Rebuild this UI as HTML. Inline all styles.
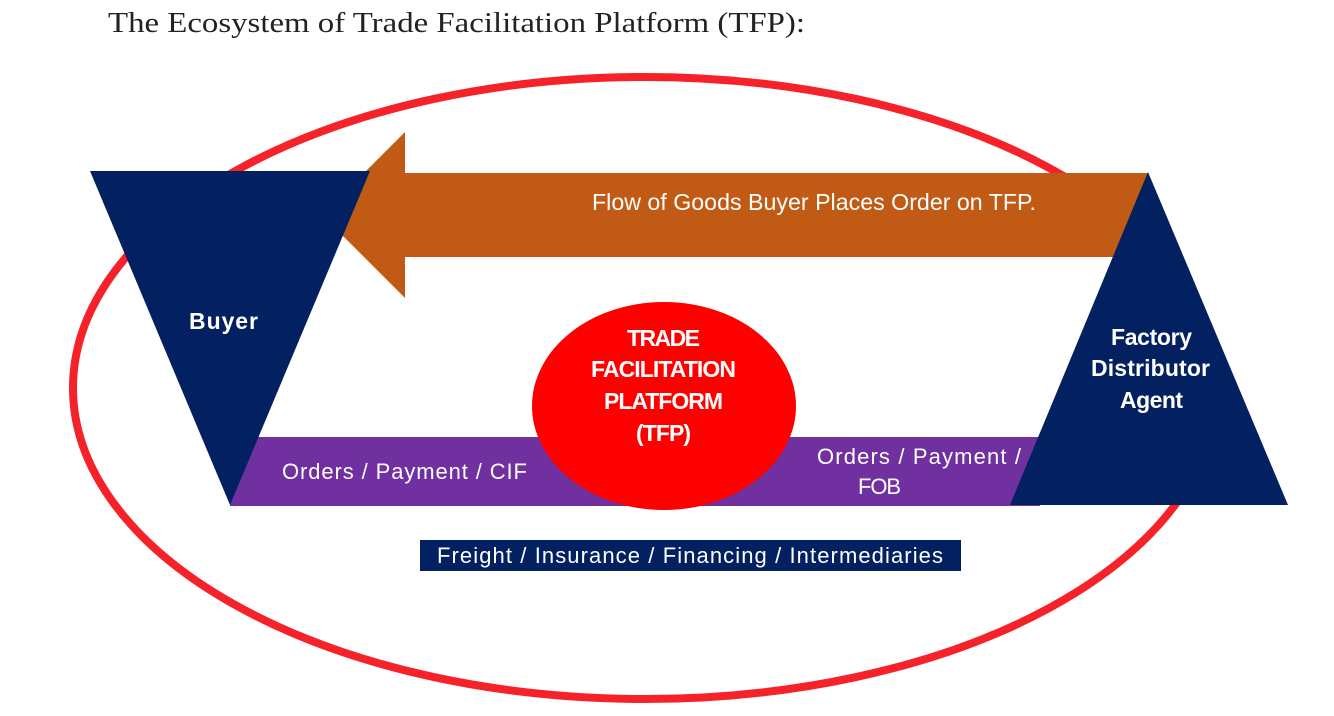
<!DOCTYPE html>
<html><head><meta charset="utf-8"><style>
html,body{margin:0;padding:0;background:#fff}
body{width:1334px;height:716px;position:relative;overflow:hidden}
svg{position:absolute;left:0;top:0}
</style></head><body>
<svg width="1334" height="716" viewBox="0 0 1334 716" xmlns="http://www.w3.org/2000/svg">
<text x="108" y="32" font-family="Liberation Serif, serif" font-size="28" fill="#222" textLength="697" lengthAdjust="spacingAndGlyphs">The Ecosystem of Trade Facilitation Platform (TFP):</text>
<ellipse cx="645" cy="388" rx="572" ry="311" fill="none" stroke="#f5222a" stroke-width="8"/>
<polygon points="1148,173 405,173 405,132 322,215 405,298 405,257 1148,257" fill="#c05a14"/>
<text x="592" y="210" font-family="Liberation Sans, sans-serif" font-size="23" fill="#fff" textLength="444" lengthAdjust="spacingAndGlyphs">Flow of Goods Buyer Places Order on TFP.</text>
<rect x="230" y="437" width="810" height="69" fill="#7030a0"/>
<polygon points="90,171 370,171 230,505" fill="#032060"/>
<polygon points="1148,172 1288,505 1010,505" fill="#032060"/>
<ellipse cx="664" cy="406" rx="132" ry="104" fill="#ff0000"/>
<rect x="420" y="540" width="541" height="31" fill="#032060"/>
<g font-family="Liberation Sans, sans-serif" font-size="23" font-weight="bold" fill="#fff" lengthAdjust="spacingAndGlyphs">
<text x="189" y="329" textLength="69">Buyer</text>
<text x="627" y="346" textLength="73">TRADE</text>
<text x="591" y="377" textLength="145">FACILITATION</text>
<text x="604" y="409" textLength="119">PLATFORM</text>
<text x="636" y="441" textLength="55">(TFP)</text>
<text x="1111" y="345" textLength="81">Factory</text>
<text x="1091" y="376" textLength="119">Distributor</text>
<text x="1120" y="408" textLength="63">Agent</text>
</g>
<g font-family="Liberation Sans, sans-serif" font-size="22" fill="#fff" lengthAdjust="spacingAndGlyphs">
<text x="282" y="479" textLength="245">Orders / Payment / CIF</text>
<text x="817" y="464" textLength="204">Orders / Payment /</text>
<text x="858" y="494" textLength="43">FOB</text>
<text x="437" y="563" textLength="506">Freight / Insurance / Financing / Intermediaries</text>
</g>
</svg>
</body></html>
